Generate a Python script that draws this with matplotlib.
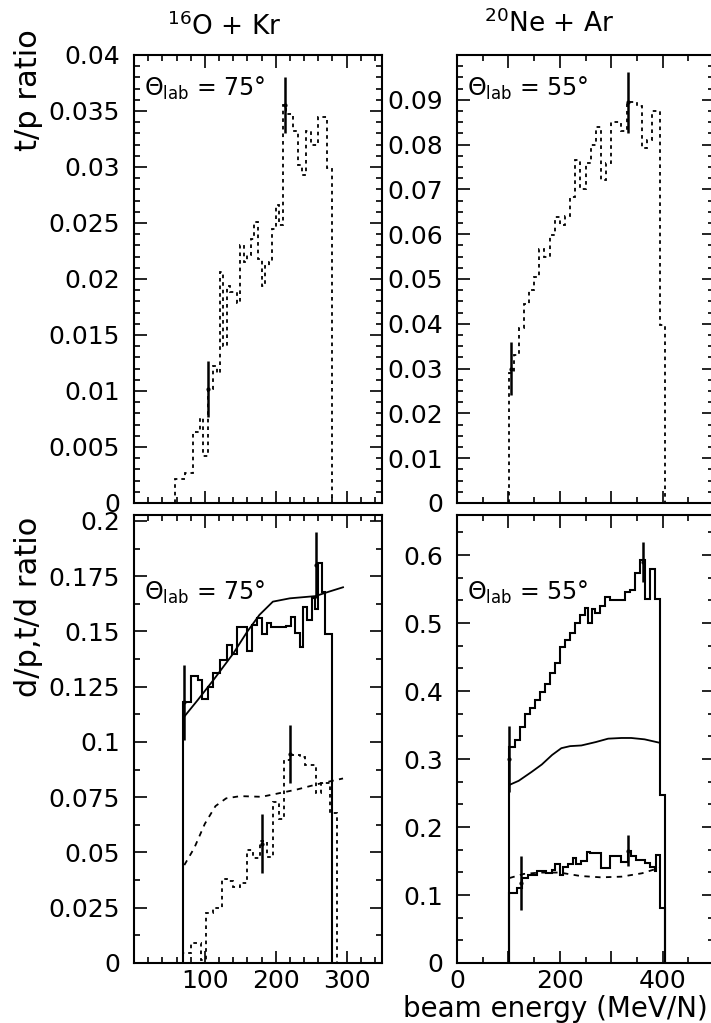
import numpy as np
import matplotlib
matplotlib.use('Agg')
import matplotlib.pyplot as plt
from matplotlib.ticker import MultipleLocator, FuncFormatter

plt.rcParams['font.family'] = ['DejaVu Sans']
plt.rcParams['mathtext.default'] = 'regular'

# ---- 16O + Kr, t/p ----
tp_kr_edges = [58, 72, 83, 93, 98, 105, 112, 117, 121, 126, 131, 136, 141, 145, 150, 155,
               160, 165, 170, 175, 180, 185, 190, 195, 200, 205, 210, 215, 220, 225, 232,
               237, 243, 250, 260, 272, 279]
tp_kr = [0.0021, 0.0027, 0.0063, 0.0076, 0.0042, 0.0102, 0.0122, 0.0116, 0.0206, 0.0140,
         0.0194, 0.0188, 0.0188, 0.0179, 0.0230, 0.0215, 0.0221, 0.0236, 0.0251, 0.0218,
         0.0194, 0.0212, 0.0215, 0.0245, 0.0266, 0.0248, 0.0355, 0.0347, 0.0347, 0.0332,
         0.0302, 0.0293, 0.0332, 0.0320, 0.0345, 0.0299]
tp_kr_err_x = [105, 213]
tp_kr_err_y = [0.0102, 0.0355]
tp_kr_err = [0.0025, 0.0025]

# ---- 20Ne + Ar, t/p ----
tp_ar_edges = [101, 110, 120, 130, 140, 150, 160, 170, 180, 190, 200, 210, 220, 230, 240,
               250, 260, 270, 280, 290, 300, 310, 320, 330, 340, 350, 360, 370, 380, 395, 404]
tp_ar = [0.0290, 0.0330, 0.0390, 0.0445, 0.0475, 0.0505, 0.0568, 0.0550, 0.0598, 0.0639,
         0.0620, 0.0640, 0.0684, 0.0766, 0.0700, 0.0760, 0.0800, 0.0840, 0.0721, 0.0760,
         0.0850, 0.0851, 0.0830, 0.0896, 0.0896, 0.0886, 0.0792, 0.0810, 0.0874, 0.0397]
tp_ar_err_x = [106, 333]
tp_ar_err_y = [0.0300, 0.0894]
tp_ar_err = [0.0060, 0.0068]

# ---- 16O + Kr, d/p and t/d ----
dp_kr_edges = [69, 81, 91, 96, 104, 112, 121, 131, 138, 145, 159, 166, 173, 180, 187, 194,
               206, 215, 222, 227, 234, 239, 244, 251, 255, 259, 265, 269, 279]
dp_kr = [0.118, 0.130, 0.128, 0.1195, 0.125, 0.131, 0.137, 0.144, 0.140, 0.152, 0.141,
         0.153, 0.156, 0.149, 0.154, 0.152, 0.152, 0.1525, 0.1565, 0.1495, 0.143, 0.161,
         0.155, 0.165, 0.160, 0.181, 0.168, 0.149]
dp_kr_err_x = [71, 257]
dp_kr_err_y = [0.118, 0.180]
dp_kr_err = [0.017, 0.015]
dp_kr_model_x = [71, 90, 112, 140, 160, 177, 196, 220, 256, 275, 295]
dp_kr_model = [0.1115, 0.119, 0.128, 0.140, 0.150, 0.1575, 0.1635, 0.165, 0.166, 0.168, 0.170]

td_kr_edges = [69, 80, 95, 102, 112, 124, 131, 140, 150, 159, 168, 178, 187, 196, 204, 211,
               220, 234, 241, 257, 264, 276, 287]
td_kr = [0.0045, 0.009, 0.0014, 0.0225, 0.025, 0.038, 0.0371, 0.0345, 0.036, 0.0511, 0.0474,
         0.055, 0.048, 0.073, 0.065, 0.092, 0.0941, 0.093, 0.0896, 0.0768, 0.0815, 0.068]
td_kr_err_x = [180, 220]
td_kr_err_y = [0.054, 0.0945]
td_kr_err = [0.0135, 0.013]
td_kr_model_x = [71, 85, 100, 115, 130, 150, 180, 200, 230, 260, 295]
td_kr_model = [0.0443, 0.052, 0.063, 0.071, 0.0745, 0.0755, 0.0752, 0.0765, 0.0785, 0.081, 0.0835]

# ---- 20Ne + Ar, d/p and t/d ----
dp_ar_edges = [101, 113, 122, 132, 142, 151, 161, 171, 181, 190, 200, 210, 219, 229, 239,
               249, 255, 262, 268, 278, 287, 297, 326, 336, 346, 356, 365, 375, 385, 394, 404]
dp_ar = [0.318, 0.328, 0.3475, 0.367, 0.375, 0.387, 0.399, 0.411, 0.4265, 0.441,
         0.465, 0.475, 0.485, 0.4995, 0.512, 0.5216, 0.500, 0.520, 0.515, 0.525,
         0.5387, 0.534, 0.545, 0.5485, 0.573, 0.593, 0.536, 0.580, 0.535, 0.247]
dp_ar_err_x = [102, 362]
dp_ar_err_y = [0.300, 0.590]
dp_ar_err = [0.048, 0.029]
dp_ar_model_x = [102, 120, 145, 165, 185, 203, 220, 242, 270, 294, 320, 339, 365, 394]
dp_ar_model = [0.262, 0.268, 0.281, 0.292, 0.306, 0.316, 0.319, 0.320, 0.325, 0.330,
               0.331, 0.331, 0.329, 0.324]

td_ar_edges = [101, 116, 126, 139, 155, 165, 174, 184, 190, 200, 207, 216, 226, 232, 242,
               252, 258, 281, 297, 320, 333, 339, 349, 365, 375, 385, 388, 394, 404]
td_ar = [0.1025, 0.110, 0.125, 0.130, 0.135, 0.135, 0.133, 0.1375, 0.145, 0.130, 0.141,
         0.145, 0.154, 0.145, 0.150, 0.1637, 0.162, 0.140, 0.1578, 0.148, 0.165, 0.158,
         0.152, 0.1466, 0.1417, 0.135, 0.159, 0.081]
td_ar_err_x = [125, 333]
td_ar_err_y = [0.118, 0.165]
td_ar_err = [0.040, 0.023]
td_ar_model_x = [102, 130, 160, 200, 240, 280, 320, 360, 394]
td_ar_model = [0.125, 0.131, 0.133, 0.133, 0.128, 0.126, 0.127, 0.132, 0.140]

W, H = 711, 1023
fig = plt.figure(figsize=(W / 100, H / 100), dpi=100)

def box(x0, x1, ytop, ybot):
    return fig.add_axes([x0 / W, 1 - ybot / H, (x1 - x0) / W, (ybot - ytop) / H])

ax_tl = box(134, 382, 55, 503)
ax_tr = box(457, 714, 55, 503)
ax_bl = box(134, 382, 515, 963)
ax_br = box(457, 714, 515, 963)

dotted = (0, (2, 2.2))
TICK_FS = 18

def style(ax, xlim, ylim, ymaj, ymin, xmaj, xmin, yfmt, xlabels=True, xevery=1, xskip0=False):
    ax.set_xlim(*xlim)
    ax.set_ylim(*ylim)
    ax.yaxis.set_major_locator(MultipleLocator(ymaj))
    ax.yaxis.set_minor_locator(MultipleLocator(ymin))
    ax.xaxis.set_major_locator(MultipleLocator(xmaj))
    ax.xaxis.set_minor_locator(MultipleLocator(xmin))
    ax.yaxis.set_major_formatter(FuncFormatter(lambda v, p: yfmt(v)))
    if xlabels:
        def xf(v, p):
            if xskip0 and round(v) == 0:
                return ''
            return '%d' % round(v) if round(v / xmaj) % xevery == 0 else ''
        ax.xaxis.set_major_formatter(FuncFormatter(xf))
    else:
        ax.set_xticklabels([])
    ax.tick_params(which='both', direction='in', top=True, right=True, width=1.2,
                   labelsize=TICK_FS)
    ax.tick_params(axis='y', pad=10)
    ax.tick_params(axis='x', pad=4)
    ax.tick_params(which='major', length=9)
    ax.tick_params(which='minor', length=4.5)
    for s in ax.spines.values():
        s.set_linewidth(1.5)

def fmt_g(v):
    if abs(v) < 1e-9:
        return '0'
    return ('%.4f' % v).rstrip('0').rstrip('.')

def fmt_tl(v):
    return '' if v > 0.0405 else fmt_g(v)

def fmt_tr(v):
    return '' if v > 0.0955 else fmt_g(v)

def fmt_bl(v):
    return '' if v > 0.2005 else fmt_g(v)

def fmt_br(v):
    return '' if v > 0.605 else fmt_g(v)

# top left
ax_tl.stairs(tp_kr, tp_kr_edges, baseline=0, color='k', lw=1.3, linestyle=dotted)
ax_tl.errorbar(tp_kr_err_x, tp_kr_err_y, yerr=tp_kr_err, fmt='.', color='k', ms=4,
               elinewidth=1.8, capsize=0)
style(ax_tl, (0, 350), (0, 0.04), 0.005, 0.001, 100, 20, fmt_tl, xlabels=False)

# top right
ax_tr.stairs(tp_ar, tp_ar_edges, baseline=0, color='k', lw=1.3, linestyle=dotted)
ax_tr.errorbar(tp_ar_err_x, tp_ar_err_y, yerr=tp_ar_err, fmt='.', color='k', ms=4,
               elinewidth=1.8, capsize=0)
style(ax_tr, (0, 500), (0, 0.1), 0.01, 0.0025, 100, 50, fmt_tr, xlabels=False)

# bottom left
ax_bl.stairs(dp_kr, dp_kr_edges, baseline=0, color='k', lw=1.5)
ax_bl.errorbar(dp_kr_err_x, dp_kr_err_y, yerr=dp_kr_err, fmt='.', color='k', ms=4,
               elinewidth=1.8, capsize=0)
ax_bl.plot(dp_kr_model_x, dp_kr_model, color='k', lw=1.3)
ax_bl.stairs(td_kr, td_kr_edges, baseline=0, color='k', lw=1.3, linestyle=dotted)
ax_bl.errorbar(td_kr_err_x, td_kr_err_y, yerr=td_kr_err, fmt='.', color='k', ms=4,
               elinewidth=1.8, capsize=0)
ax_bl.plot(td_kr_model_x, td_kr_model, color='k', lw=1.3, linestyle=(0, (3, 3)))
style(ax_bl, (0, 350), (0, 0.2027), 0.025, 0.0125, 100, 20, fmt_bl, xskip0=True)

# bottom right
ax_br.stairs(dp_ar, dp_ar_edges, baseline=0, color='k', lw=1.5)
ax_br.errorbar(dp_ar_err_x, dp_ar_err_y, yerr=dp_ar_err, fmt='.', color='k', ms=4,
               elinewidth=1.8, capsize=0)
ax_br.plot(dp_ar_model_x, dp_ar_model, color='k', lw=1.3)
ax_br.stairs(td_ar, td_ar_edges, baseline=0, color='k', lw=1.5)
ax_br.errorbar(td_ar_err_x, td_ar_err_y, yerr=td_ar_err, fmt='.', color='k', ms=4,
               elinewidth=1.8, capsize=0)
ax_br.plot(td_ar_model_x, td_ar_model, color='k', lw=1.3, linestyle=(0, (3, 3)))
style(ax_br, (0, 500), (0, 0.659), 0.1, 0.1 / 3, 100, 50, fmt_br, xevery=2)

# angle labels
ax_tl.text(0.04, 0.91, r'$\Theta_{lab}$ = 75°', transform=ax_tl.transAxes, fontsize=17)
ax_tr.text(0.04, 0.91, r'$\Theta_{lab}$ = 55°', transform=ax_tr.transAxes, fontsize=17)
ax_bl.text(0.04, 0.81, r'$\Theta_{lab}$ = 75°', transform=ax_bl.transAxes, fontsize=17)
ax_br.text(0.04, 0.81, r'$\Theta_{lab}$ = 55°', transform=ax_br.transAxes, fontsize=17)

# titles and axis labels
fig.text(224 / W, 1 - 27 / H, r'$^{16}$O + Kr', ha='center', va='center', fontsize=19)
fig.text(549 / W, 1 - 24 / H, r'$^{20}$Ne + Ar', ha='center', va='center', fontsize=19)
fig.text(29 / W, 1 - 90 / H, 't/p ratio', rotation=90, ha='center', va='center', fontsize=22)
fig.text(29 / W, 1 - 607 / H, 'd/p,t/d ratio', rotation=90, ha='center', va='center',
         fontsize=22)
fig.text(555 / W, 1 - 1009 / H, 'beam energy (MeV/N)', ha='center', va='center',
         fontsize=20)

fig.savefig('out.png', dpi=100)
